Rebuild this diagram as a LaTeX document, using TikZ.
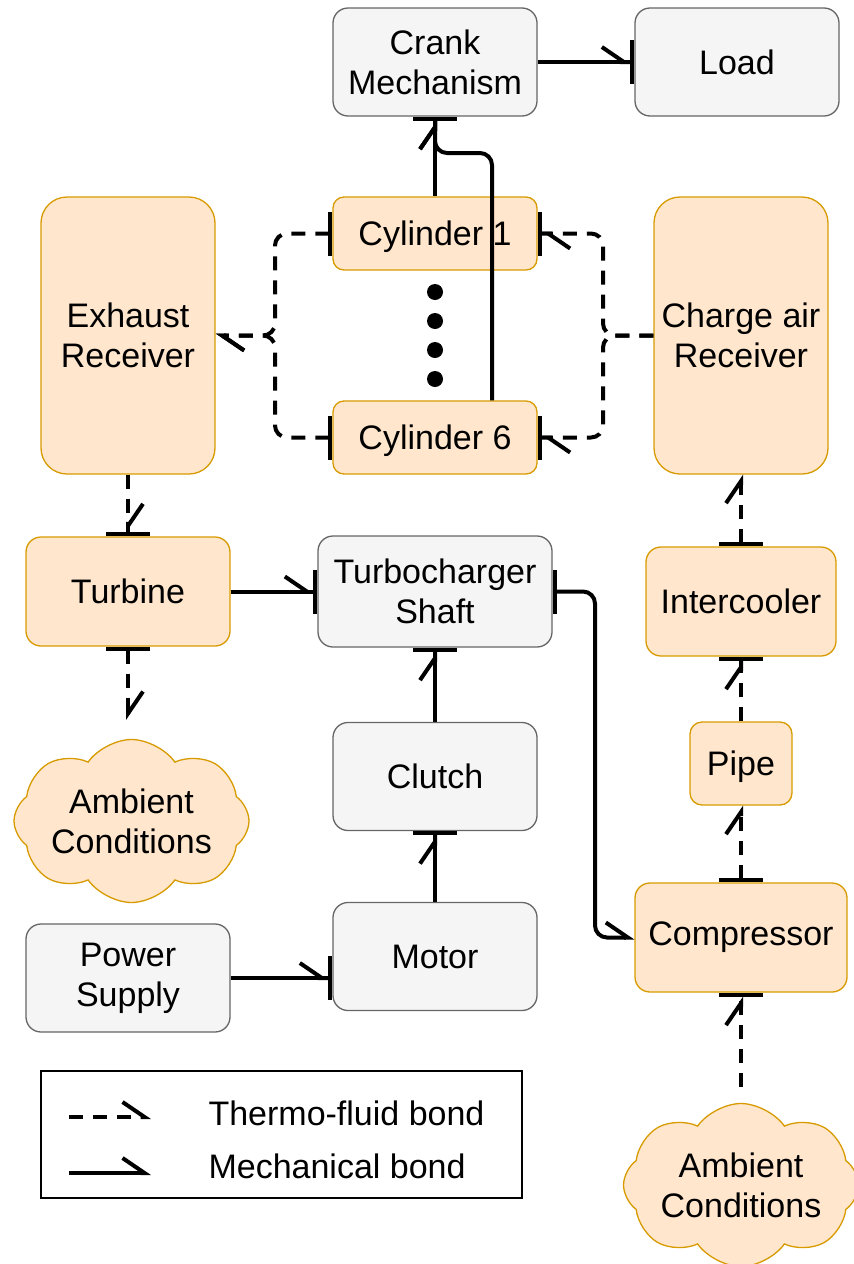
\documentclass[tikz,border=0pt]{standalone}
\usepackage{fontspec}
\setmainfont{Liberation Sans}
\usetikzlibrary{arrows.meta}
\usetikzlibrary{shapes.symbols}
\usetikzlibrary{calc}

\definecolor{orfill}{HTML}{FFE6CC}
\definecolor{ordraw}{HTML}{D79B00}
\definecolor{grfill}{HTML}{F5F5F5}
\definecolor{grdraw}{HTML}{666666}

\tikzset{
  hbarb/.tip={Straight Barb[harpoon,length=22pt,width=30pt,sep=0pt]},
  cbar/.tip={Bar[width=44pt]},
}

\begin{document}
\begin{tikzpicture}[x=1pt, y=-1pt,
  every node/.style={font=\fontsize{34}{40}\selectfont, align=center},
  gblock/.style={draw=grdraw, fill=grfill, line width=1.3pt, rounded corners=15pt,
    minimum width=204pt, minimum height=108pt},
  oblock/.style={draw=ordraw, fill=orfill, line width=1.3pt, rounded corners=15pt,
    minimum width=204pt, minimum height=108pt},
  ambient/.style={cloud, cloud puffs=8, cloud puff arc=110, cloud ignores aspect,
    draw=ordraw, fill=orfill, line width=1.3pt, inner sep=0pt,
    minimum width=235pt, minimum height=163pt},
  mech/.style={line width=4pt, rounded corners=12pt},
  fluid/.style={line width=4pt, rounded corners=12pt, dash pattern=on 14pt off 10pt},
]
\useasboundingbox (0,0) rectangle (854,1264);

% engine blocks
\node[gblock] (crank) at (435,62) {Crank\\Mechanism};
\node[gblock] (load) at (737,62) {Load};
\node[oblock, minimum height=73pt, rounded corners=11pt, text depth=0pt] (cyl1) at (435,233.5) {Cylinder 1};
\node[oblock, minimum height=73pt, rounded corners=11pt, text depth=0pt] (cyl6) at (435,437.5) {Cylinder 6};
\node[oblock, minimum width=174pt, minimum height=277pt, rounded corners=26pt] (exrec) at (128,335.5) {Exhaust\\Receiver};
\node[oblock, minimum width=174pt, minimum height=277pt, rounded corners=26pt] (charec) at (741,335.5) {Charge air\\Receiver};
\foreach \y in {292,321,350,379}
  \fill (435,\y) circle[radius=8pt];

% turbocharger blocks
\node[oblock, minimum height=109pt] (turbine) at (128,591.5) {Turbine};
\node[gblock, minimum width=234pt, minimum height=111pt] (tcshaft) at (435,591.5) {Turbocharger\\Shaft};
\node[oblock, minimum width=190pt, minimum height=109pt] (intercool) at (741,601.5) {Intercooler};
\node[oblock, minimum width=102pt, minimum height=83pt, rounded corners=12pt, text depth=0pt] (pipe) at (741,763.5) {Pipe};
\node[oblock, minimum width=212pt, minimum height=109pt] (compr) at (741,937.5) {Compressor};
\node[gblock] (clutch) at (435,776.5) {Clutch};
\node[gblock] (motor) at (435,956.5) {Motor};
\node[gblock] (power) at (128,978) {Power\\Supply};
\node[ambient, label={[align=center]center:Ambient\\Conditions}] (ambl) at (131.5,821) {};
\node[ambient, label={[align=center]center:Ambient\\Conditions}] (ambr) at (741,1185) {};

\coordinate (c6top) at ([xshift=57pt]cyl6.north);
\coordinate (crankjoin) at (435,153);
\coordinate (exjoin) at (275,335.5);
\coordinate (chjoin) at (603,335.5);
\coordinate (ambltip) at (128,720);
\coordinate (ambrtail) at (741,1087);
\coordinate (shaftbend) at (595,937.5);

% mechanical bonds
\draw[mech, -{hbarb[] cbar[]}] (crank.east) -- (load.west);
\draw[mech, -{hbarb[] cbar[]}] (cyl1.north) -- (crank.south);
\draw[mech, -{hbarb[] cbar[]}] (c6top) |- (crankjoin) -- (crank.south);
\draw[mech, -{hbarb[] cbar[]}] (turbine.east) -- (tcshaft.west);
\draw[mech, {cbar[]}-{hbarb[]}] (tcshaft.east) -| (shaftbend) -- (compr.west);
\draw[mech, -{hbarb[] cbar[]}] (clutch.north) -- (tcshaft.south);
\draw[mech, -{hbarb[] cbar[]}] (motor.north) -- (clutch.south);
\draw[mech, -{hbarb[] cbar[]}] (power.east) -- (power.east -| motor.west);

% thermo-fluid bonds
\draw[fluid, {cbar[]}-{hbarb[]}] (cyl1.west) -| (exjoin) -- (exrec.east);
\draw[fluid, {cbar[]}-{hbarb[]}] (cyl6.west) -| (exjoin) -- (exrec.east);
\draw[fluid, -{hbarb[] cbar[]}] (charec.west) -- (chjoin) |- (cyl1.east);
\draw[fluid, -{hbarb[] cbar[]}] (charec.west) -- (chjoin) |- (cyl6.east);
\draw[fluid, -{hbarb[] cbar[]}] (exrec.south) -- (turbine.north);
\draw[fluid, {cbar[]}-{hbarb[]}] (turbine.south) -- (ambltip);
\draw[fluid, {cbar[]}-{hbarb[]}] (compr.north) -- (pipe.south);
\draw[fluid, -{hbarb[] cbar[]}] (pipe.north) -- (intercool.south);
\draw[fluid, {cbar[]}-{hbarb[]}] (intercool.north) -- (charec.south);
\draw[fluid, -{hbarb[] cbar[]}] (ambrtail) -- (compr.south);

% legend
\node[draw, line width=1.3pt, minimum width=481pt, minimum height=127pt] (legend) at (281.5,1134.5) {};
\coordinate (lgfs) at (69,1117);
\coordinate (lgfe) at (151,1117);
\coordinate (lgms) at (69,1173);
\coordinate (lgme) at (151,1173);
\draw[fluid, -{hbarb[]}] (lgfs) -- (lgfe);
\draw[mech, -{hbarb[]}] (lgms) -- (lgme);
\node[anchor=base west] (lgftext) at (205,1125) {Thermo-fluid bond};
\node[anchor=base west] (lgmtext) at (205,1178) {Mechanical bond};

\end{tikzpicture}
\end{document}
